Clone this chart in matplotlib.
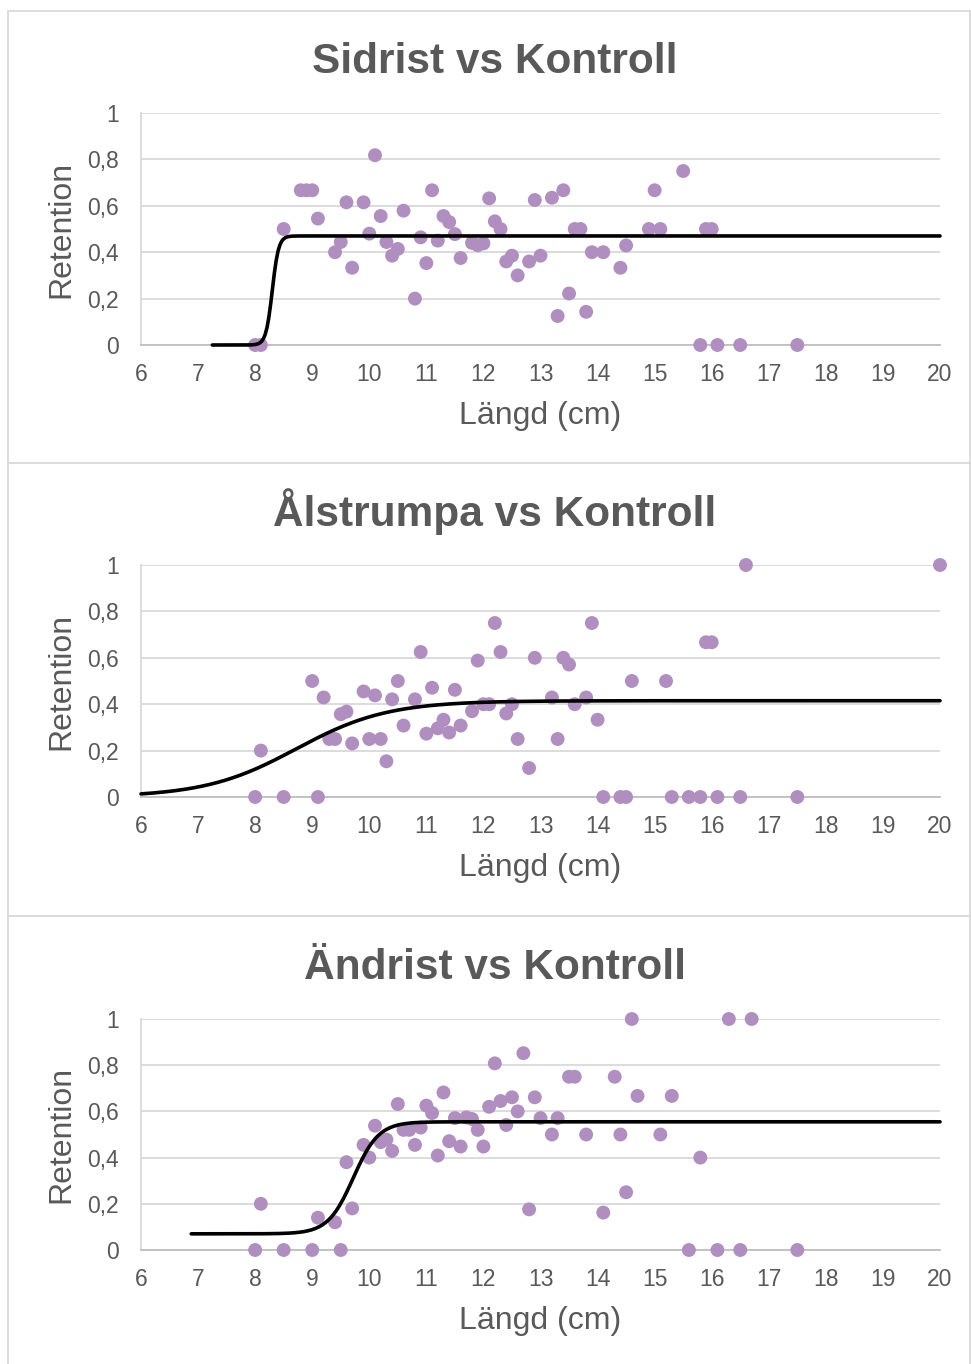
import numpy as np
import matplotlib
matplotlib.use("Agg")
import matplotlib.pyplot as plt
from matplotlib.lines import Line2D

plt.rcParams['font.family'] = ['Liberation Sans', 'DejaVu Sans']

W, H = 971, 1364

titles = ["Sidrist vs Kontroll", "Ålstrumpa vs Kontroll", "Ändrist vs Kontroll"]

# Sidrist: length (cm) and observed retention
sid_len = [8.0, 8.1, 8.5, 8.8, 8.9, 9.0, 9.1, 9.4, 9.5, 9.6, 9.7, 9.9, 10.0, 10.1,
           10.2, 10.3, 10.4, 10.5, 10.6, 10.8, 10.9, 11.0, 11.1, 11.2, 11.3, 11.4,
           11.5, 11.6, 11.8, 11.9, 12.0, 12.1, 12.2, 12.3, 12.4, 12.5, 12.6, 12.8,
           12.9, 13.0, 13.2, 13.4, 13.3, 13.5, 13.6, 13.7, 13.8, 13.9, 14.1, 14.4,
           14.5, 14.9, 15.0, 15.1, 15.5, 15.8, 15.9, 16.0, 16.1, 16.5, 17.5]
sid_ret = [0, 0, 0.5, 0.667, 0.667, 0.667, 0.545, 0.4, 0.444, 0.615, 0.333, 0.615, 0.48, 0.818,
           0.556, 0.444, 0.385, 0.414, 0.579, 0.2, 0.464, 0.353, 0.667, 0.45, 0.556, 0.53,
           0.478, 0.375, 0.44, 0.43, 0.438, 0.632, 0.533, 0.5, 0.36, 0.385, 0.3, 0.36,
           0.625, 0.385, 0.635, 0.667, 0.125, 0.222, 0.5, 0.5, 0.143, 0.4, 0.4, 0.333,
           0.429, 0.5, 0.667, 0.5, 0.75, 0, 0.5, 0.5, 0, 0, 0]

# Ålstrumpa
als_len = [8.0, 8.1, 8.5, 9.0, 9.1, 9.2, 9.3, 9.4, 9.5, 9.6, 9.7, 9.9, 10.0, 10.1,
           10.2, 10.3, 10.4, 10.5, 10.6, 10.8, 10.9, 11.0, 11.1, 11.2, 11.3, 11.4,
           11.5, 11.6, 11.8, 11.9, 12.0, 12.1, 12.2, 12.3, 12.4, 12.5, 12.6, 12.8,
           12.9, 13.2, 13.3, 13.4, 13.5, 13.6, 13.8, 13.9, 14.0, 14.1, 14.4, 14.5,
           14.6, 15.2, 15.3, 15.6, 15.8, 15.9, 16.0, 16.1, 16.5, 16.6, 17.5, 20.0]
als_ret = [0, 0.2, 0, 0.5, 0, 0.429, 0.25, 0.25, 0.357, 0.368, 0.231, 0.455, 0.25, 0.438,
           0.25, 0.154, 0.421, 0.5, 0.308, 0.421, 0.625, 0.273, 0.471, 0.296, 0.333, 0.278,
           0.462, 0.308, 0.37, 0.588, 0.4, 0.4, 0.75, 0.625, 0.36, 0.4, 0.25, 0.125,
           0.6, 0.429, 0.25, 0.6, 0.571, 0.4, 0.429, 0.75, 0.333, 0, 0, 0,
           0.5, 0.5, 0, 0, 0, 0.667, 0.667, 0, 0, 1.0, 0, 1.0]

# Ändrist
and_len = [8.0, 8.1, 8.5, 9.0, 9.1, 9.4, 9.5, 9.6, 9.7, 9.9, 10.0, 10.1, 10.2, 10.3,
           10.4, 10.5, 10.6, 10.7, 10.8, 10.9, 11.0, 11.1, 11.2, 11.3, 11.4, 11.5,
           11.6, 11.7, 11.8, 11.9, 12.0, 12.1, 12.2, 12.3, 12.4, 12.5, 12.6, 12.7,
           12.8, 12.9, 13.0, 13.2, 13.3, 13.5, 13.6, 13.8, 14.1, 14.3, 14.4, 14.5,
           14.6, 14.7, 15.1, 15.3, 15.6, 15.8, 16.1, 16.3, 16.5, 16.7, 17.5]
and_ret = [0, 0.2, 0, 0, 0.14, 0.12, 0, 0.38, 0.18, 0.455, 0.4, 0.538, 0.467, 0.478,
           0.429, 0.632, 0.52, 0.52, 0.455, 0.53, 0.625, 0.593, 0.409, 0.682, 0.471, 0.571,
           0.448, 0.574, 0.567, 0.52, 0.448, 0.62, 0.808, 0.645, 0.541, 0.661, 0.6, 0.852,
           0.176, 0.661, 0.571, 0.5, 0.571, 0.75, 0.75, 0.5, 0.162, 0.75, 0.5, 0.25,
           1.0, 0.667, 0.5, 0.667, 0, 0.4, 0, 1.0, 0, 1.0, 0]

# fitted selection curves: start length, lower, upper, L50, slope
curve_start = [7.25, 6.0, 6.88]
curve_lower = [0.0, 0.0, 0.07]
curve_upper = [0.47, 0.415, 0.555]
curve_l50 = [8.3, 8.72, 9.72]
curve_slope = [18.0, 1.25, 4.5]

xticks = list(range(6, 21))
yticks = [0, 0.2, 0.4, 0.6, 0.8, 1]
ytick_labels = ["0", "0,2", "0,4", "0,6", "0,8", "1"]

lengths = [sid_len, als_len, and_len]
retention = [sid_ret, als_ret, and_ret]

# plot area in pixels: (top, bottom) for each panel
plot_rows = [(113, 345), (565, 797), (1019, 1250)]
title_base = [73, 526, 979]
frame_rows = [(11, 463), (463, 916), (916, 1370)]
plot_left, plot_right = 141, 940

text_col = '#595959'
dot_col = '#b08ebf'

fig = plt.figure(figsize=(W / 100, H / 100), dpi=100)

def fx(px):
    return px / W

def fy(py):
    return 1 - py / H

# chart frames
for top, bot in frame_rows:
    for seg in [([8, 969.5], [top, top]), ([8, 8], [top, bot]), ([969.5, 969.5], [top, bot])]:
        fig.add_artist(Line2D([fx(v) for v in seg[0]], [fy(v) for v in seg[1]],
                              color='#d9d9d9', lw=1.3))

for i in range(3):
    top, bot = plot_rows[i]
    ax = fig.add_axes([fx(plot_left), fy(bot), fx(plot_right - plot_left), (bot - top) / H])
    ax.set_xlim(6, 20)
    ax.set_ylim(0, 1)
    ax.set_xticks(xticks)
    ax.set_yticks(yticks)
    ax.set_yticklabels(ytick_labels)
    ax.grid(axis='y', color='#d9d9d9', lw=1.3)
    ax.set_axisbelow(True)
    for s in ['top', 'right']:
        ax.spines[s].set_visible(False)
    ax.spines['left'].set_color('#d9d9d9')
    ax.spines['left'].set_linewidth(1.3)
    ax.spines['bottom'].set_color('#bfbfbf')
    ax.spines['bottom'].set_linewidth(1.3)
    ax.tick_params(length=0, labelsize=16.5, labelcolor=text_col)
    ax.tick_params(axis='x', pad=13)
    ax.tick_params(axis='y', pad=16)

    ax.scatter(lengths[i], retention[i], s=100, color=dot_col, edgecolors='none',
               zorder=3, clip_on=False)

    xs = np.linspace(curve_start[i], 20, 400)
    ys = curve_lower[i] + (curve_upper[i] - curve_lower[i]) / (
        1 + np.exp(-curve_slope[i] * (xs - curve_l50[i])))
    ax.plot(xs, ys, color='black', lw=2.6, solid_capstyle='round', zorder=4, clip_on=False)

    ax.set_xlabel("Längd (cm)", fontsize=23, color=text_col, labelpad=11)
    ax.set_ylabel("Retention", fontsize=23, color=text_col, labelpad=8)

    fig.text(fx(495), fy(title_base[i]), titles[i], fontsize=30.5, fontweight='bold',
             color=text_col, ha='center', va='baseline')

fig.savefig("out.png", dpi=100)
